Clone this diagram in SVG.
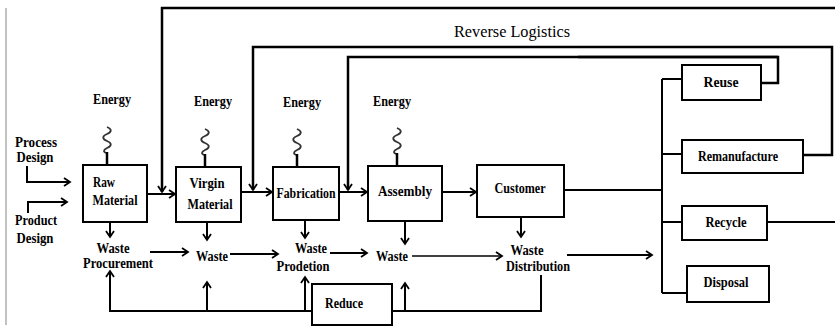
<svg xmlns="http://www.w3.org/2000/svg" width="835" height="327" viewBox="0 0 835 327">
<style>
.bg{fill:#fff}
.box{fill:#fff;stroke:#000;stroke-width:2}
.ln{fill:none;stroke:#000;stroke-width:2}
.thk{fill:none;stroke:#000;stroke-width:2.5}
.thin{fill:none;stroke:#000;stroke-width:1.5}
.sq{fill:none;stroke:#333;stroke-width:1.8}
.stem{fill:none;stroke:#000;stroke-width:2.5}
text{font-family:"Liberation Serif","Times New Roman",serif;font-weight:bold;font-size:15px;fill:#000;text-anchor:middle}
.rl{font-weight:normal;font-size:16px}
</style>
<defs>
<marker id="a" markerUnits="userSpaceOnUse" markerWidth="12" markerHeight="12" refX="7" refY="5" orient="auto" viewBox="0 0 12 10">
<path d="M1,1 L7,5 L1,9" fill="none" stroke="#000" stroke-width="1.8"/>
</marker>
</defs>
<rect class="bg" x="0" y="0" width="835" height="327"/>
<line x1="6" y1="8" x2="6" y2="325" stroke="#999" stroke-width="1.2"/>

<text class="rl" x="512" y="37" textLength="116" lengthAdjust="spacingAndGlyphs">Reverse Logistics</text>

<g id="energy1"><text x="112" y="104" textLength="38" lengthAdjust="spacingAndGlyphs">Energy</text><path class="sq" d="M107,127 c5,2 5,5 0,7 c-5,2 -5,5 0,7 c5,2 5,5 0,7 c-4,2 -4,4 0,5"/><path class="stem" d="M107,152 V164"/></g>
<g id="energy2"><text x="213" y="106" textLength="38" lengthAdjust="spacingAndGlyphs">Energy</text><path class="sq" d="M205,129 c5,2 5,5 0,7 c-5,2 -5,5 0,7 c5,2 5,5 0,7 c-4,2 -4,4 0,5"/><path class="stem" d="M205,154 V166"/></g>
<g id="energy3"><text x="302" y="107" textLength="38" lengthAdjust="spacingAndGlyphs">Energy</text><path class="sq" d="M297,129 c5,2 5,5 0,7 c-5,2 -5,5 0,7 c5,2 5,5 0,7 c-4,2 -4,4 0,5"/><path class="stem" d="M297,154 V166"/></g>
<g id="energy4"><text x="392" y="106" textLength="38" lengthAdjust="spacingAndGlyphs">Energy</text><path class="sq" d="M397,128 c5,2 5,5 0,7 c-5,2 -5,5 0,7 c5,2 5,5 0,7 c-4,2 -4,4 0,5"/><path class="stem" d="M397,153 V165"/></g>

<g id="process-design"><text x="36" y="147" textLength="42" lengthAdjust="spacingAndGlyphs">Process</text><text x="35" y="162" textLength="37" lengthAdjust="spacingAndGlyphs">Design</text></g>
<g id="product-design"><text x="36" y="225" textLength="42" lengthAdjust="spacingAndGlyphs">Product</text><text x="35" y="243" textLength="37" lengthAdjust="spacingAndGlyphs">Design</text></g>

<g id="raw-material"><rect class="box" x="83" y="165" width="64" height="57"/><text x="104" y="187" textLength="22" lengthAdjust="spacingAndGlyphs">Raw</text><text x="115" y="205" textLength="45" lengthAdjust="spacingAndGlyphs">Material</text></g>
<g id="virgin-material"><rect class="box" x="176" y="167" width="65" height="55"/><text x="207" y="188" textLength="35" lengthAdjust="spacingAndGlyphs">Virgin</text><text x="210" y="209" textLength="45" lengthAdjust="spacingAndGlyphs">Material</text></g>
<g id="fabrication"><rect class="box" x="273" y="167" width="66" height="53"/><text x="306" y="198" textLength="59" lengthAdjust="spacingAndGlyphs">Fabrication</text></g>
<g id="assembly"><rect class="box" x="368" y="166" width="74" height="55"/><text x="405" y="196" textLength="54" lengthAdjust="spacingAndGlyphs">Assembly</text></g>
<g id="customer"><rect class="box" x="477" y="165" width="87" height="52"/><text x="520" y="193" textLength="51" lengthAdjust="spacingAndGlyphs">Customer</text></g>

<g id="reuse"><rect class="box" x="682" y="65" width="79" height="35"/><text x="721" y="87" textLength="35" lengthAdjust="spacingAndGlyphs">Reuse</text></g>
<g id="remanufacture"><rect class="box" x="682" y="140" width="121" height="33"/><text x="738" y="161" textLength="80" lengthAdjust="spacingAndGlyphs">Remanufacture</text></g>
<g id="recycle"><rect class="box" x="682" y="206" width="85" height="34"/><text x="726" y="227" textLength="41" lengthAdjust="spacingAndGlyphs">Recycle</text></g>
<g id="disposal"><rect class="box" x="687" y="266" width="82" height="36"/><text x="726" y="287" textLength="45" lengthAdjust="spacingAndGlyphs">Disposal</text></g>

<g id="waste-procurement"><text x="113" y="253" textLength="33" lengthAdjust="spacingAndGlyphs">Waste</text><text x="118" y="268" textLength="70" lengthAdjust="spacingAndGlyphs">Procurement</text></g>
<g id="waste-virgin"><text x="212" y="261" textLength="32" lengthAdjust="spacingAndGlyphs">Waste</text></g>
<g id="waste-production"><text x="311" y="253" textLength="32" lengthAdjust="spacingAndGlyphs">Waste</text><text x="303" y="271" textLength="53" lengthAdjust="spacingAndGlyphs">Prodetion</text></g>
<g id="waste-assembly"><text x="392" y="261" textLength="32" lengthAdjust="spacingAndGlyphs">Waste</text></g>
<g id="waste-distribution"><text x="527" y="255" textLength="33" lengthAdjust="spacingAndGlyphs">Waste</text><text x="538" y="271" textLength="64" lengthAdjust="spacingAndGlyphs">Distribution</text></g>
<g id="reduce"><rect class="box" x="312" y="284" width="80" height="41"/><text x="344" y="308" textLength="38" lengthAdjust="spacingAndGlyphs">Reduce</text></g>

<g id="connectors">
<path class="ln" d="M27,166 V182 H70" marker-end="url(#a)"/>
<path class="ln" d="M28,213 V202 H67" marker-end="url(#a)"/>
<path class="thk" d="M835,8 H162 V192" marker-end="url(#a)"/>
<path class="thk" d="M803,155 H832 V47 H253 V190" marker-end="url(#a)"/>
<path class="thk" d="M761,83 H778 V57 H348 V190" marker-end="url(#a)"/>
<path class="thk" d="M578,57 H778" stroke-width="3.5"/>
<path class="ln" d="M767,222 H835"/>
<path class="ln" d="M147,194 H175" marker-end="url(#a)"/>
<path class="ln" d="M241,192 H272" marker-end="url(#a)"/>
<path class="ln" d="M339,192 H367" marker-end="url(#a)"/>
<path class="ln" d="M442,192 H476" marker-end="url(#a)"/>
<path class="ln" d="M564,190 H662"/>
<path class="ln" d="M662,79 V293"/>
<path class="ln" d="M662,79 H682 M662,154 H682 M662,222 H682 M662,293 H687"/>
<path class="ln" d="M110,222 V237" marker-end="url(#a)"/>
<path class="ln" d="M207,222 V240" marker-end="url(#a)"/>
<path class="ln" d="M305,220 V238" marker-end="url(#a)"/>
<path class="ln" d="M405,221 V244" marker-end="url(#a)"/>
<path class="ln" d="M521,217 V237" marker-end="url(#a)"/>
<path class="ln" d="M150,252 H188" marker-end="url(#a)"/>
<path class="ln" d="M230,254 H278" marker-end="url(#a)"/>
<path class="ln" d="M330,253 H367" marker-end="url(#a)"/>
<path class="thin" d="M412,256 H502" marker-end="url(#a)"/>
<path class="ln" d="M567,255 H652" marker-end="url(#a)"/>
<path class="ln" d="M312,311 H110 V271" marker-end="url(#a)"/>
<path class="ln" d="M207,311 V282" marker-end="url(#a)"/>
<path class="ln" d="M305,311 V277" marker-end="url(#a)"/>
<path class="ln" d="M392,311 H541 V275"/>
<path class="ln" d="M405,311 V283" marker-end="url(#a)"/>
</g>
</svg>
